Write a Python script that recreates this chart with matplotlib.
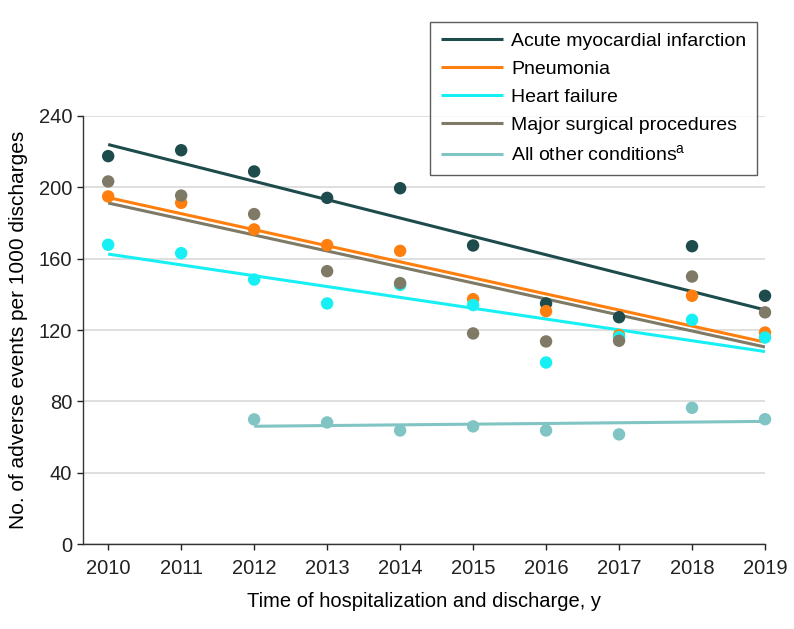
"""
Adverse events per 1000 discharges, 2010-2019, with linear trend lines
"""

import matplotlib
matplotlib.use('Agg')
import matplotlib.pyplot as plt
import numpy as np

plt.rcParams['font.family'] = ['Liberation Sans', 'DejaVu Sans']

years = [2010, 2011, 2012, 2013, 2014, 2015, 2016, 2017, 2018, 2019]
other_years = [2012, 2013, 2014, 2015, 2016, 2017, 2018, 2019]

ami = [217.5, 220.8, 208.9, 194.1, 199.5, 167.4, 134.9, 127.2, 167.0, 139.2]
pneumonia = [194.9, 191.3, 176.4, 167.6, 164.4, 137.3, 130.6, 117.1, 139.2, 118.6]
heart_failure = [167.8, 163.1, 148.3, 134.9, 145.3, 134.0, 101.8, 116.0, 125.7, 115.8]
surgical = [203.3, 195.4, 185.0, 153.0, 146.3, 118.1, 113.6, 114.0, 150.0, 129.9]
all_other = [69.9, 68.2, 63.7, 66.0, 63.7, 61.5, 76.4, 70.0]

series = [
    ('Acute myocardial infarction', years, ami, '#1e4b4c'),
    ('Pneumonia', years, pneumonia, '#ff7f0e'),
    ('Heart failure', years, heart_failure, '#16f0f4'),
    ('Major surgical procedures', years, surgical, '#7e7a66'),
    ('All other conditions$^\\mathregular{a}$', other_years, all_other, '#80c4c3'),
]

fig = plt.figure(figsize=(7.94, 6.29), dpi=100)
ax = fig.add_axes([0.105, 0.135, 0.8585, 0.6806])

for label, x, y, color in series:
    x = np.array(x)
    y = np.array(y)
    # linear trend line
    slope, intercept = np.polyfit(x, y, 1)
    ax.plot(x, slope * x + intercept, color=color, linewidth=2.2, label=label,
            solid_capstyle='butt', zorder=3)
    ax.scatter(x, y, s=80, color=color, edgecolors='none', zorder=4, clip_on=False)

ax.set_xlim(2009.66, 2019.0)
ax.set_ylim(0, 240)
ax.set_yticks(range(0, 241, 40))
ax.set_xticks(years)
ax.grid(axis='y', color='#d9d9d9', linewidth=1.2)
ax.set_axisbelow(True)

for side in ['top', 'right']:
    ax.spines[side].set_visible(False)
for side in ['left', 'bottom']:
    ax.spines[side].set_color('#333333')
    ax.spines[side].set_linewidth(1.0)

ax.tick_params(axis='both', labelsize=14.5, colors='#222222', length=4.5, width=1)
ax.tick_params(axis='y', pad=3.5)
ax.tick_params(axis='x', pad=6)

ax.set_xlabel('Time of hospitalization and discharge, y', fontsize=14.5, labelpad=10)
ax.set_ylabel('No. of adverse events per 1000 discharges', fontsize=15, labelpad=8)

leg = fig.legend(loc='upper right', bbox_to_anchor=(0.9534, 0.9655), fontsize=14,
                 frameon=True, fancybox=False, handlelength=3.2, handletextpad=0.4,
                 borderpad=0.55, labelspacing=0.53, borderaxespad=0)
leg.get_frame().set_edgecolor('#333333')
leg.get_frame().set_linewidth(1.0)

fig.savefig('out.png', dpi=100)
